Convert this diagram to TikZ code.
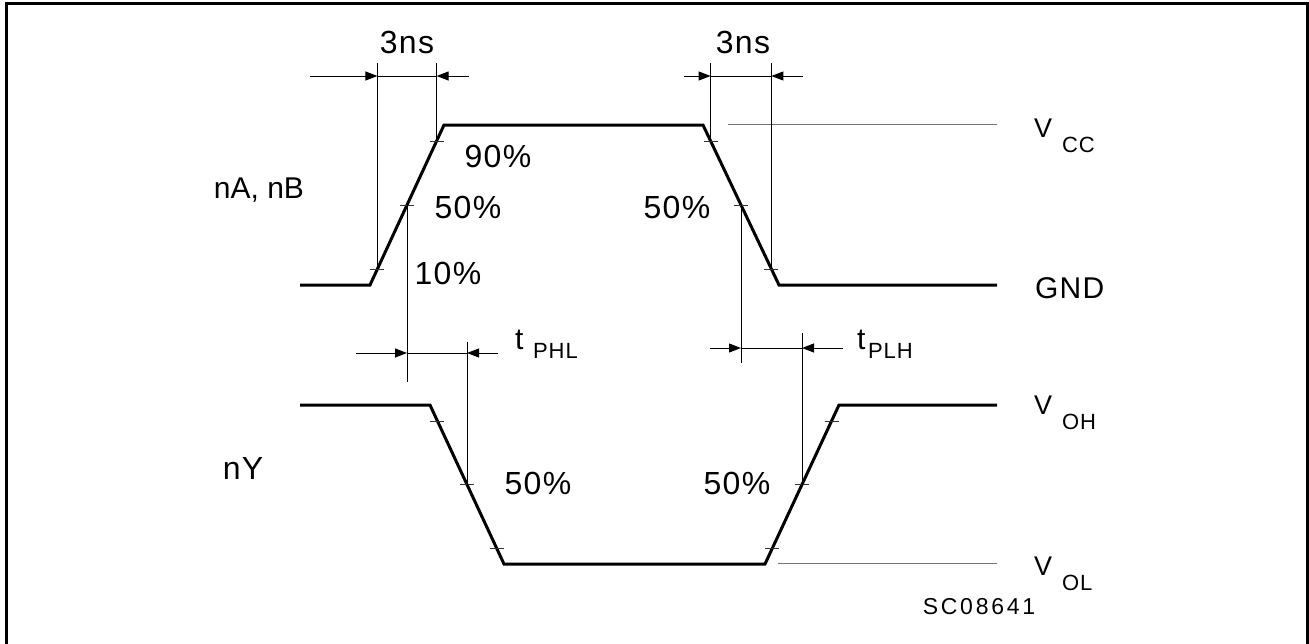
\documentclass[tikz,border=0pt]{standalone}
\usepackage{fontspec}
\setmainfont{Liberation Sans}
\newfontfamily\lblfont[LetterSpace=4]{Liberation Sans}
\newfontfamily\scfont[LetterSpace=12]{Liberation Sans}
\usetikzlibrary{arrows.meta,calc}
\begin{document}
\begin{tikzpicture}[x=1pt,y=-1pt,
  wave/.style={line width=3pt, line join=miter},
  thinline/.style={line width=1pt},
  refline/.style={line width=1pt, draw=black!55},
  dimarrow/.style={line width=1pt, -{Triangle[length=12pt,width=9pt]}},
  lbl/.style={font=\lblfont\fontsize{32}{32}\selectfont, inner sep=0pt},
  vlbl/.style={font=\lblfont\fontsize{27}{27}\selectfont, inner sep=0pt, anchor=base west},
  sub/.style={font=\lblfont\fontsize{22}{22}\selectfont, inner sep=0pt, anchor=base west},
  ticky/.style={line width=0.8pt, draw=black!80}]
\useasboundingbox (0,0) rectangle (1309,643);
% frame
\draw[line width=3pt] (6.5,650) -- (6.5,3.5) -- (1307.5,3.5) -- (1307.5,650);
% input waveform
\coordinate (a0) at (300,285);
\coordinate (a1) at (370,285);
\coordinate (a2) at (444,125);
\coordinate (a3) at (703,125);
\coordinate (a4) at (779,285);
\coordinate (a5) at (997,285);
\draw[wave] (a0) -- (a1) -- (a2) -- (a3) -- (a4) -- (a5);
\coordinate (r10) at ($(a1)!0.1!(a2)$);
\coordinate (r50) at ($(a1)!0.5!(a2)$);
\coordinate (r90) at ($(a1)!0.9!(a2)$);
\coordinate (f90) at ($(a3)!0.1!(a4)$);
\coordinate (f50) at ($(a3)!0.5!(a4)$);
\coordinate (f10) at ($(a3)!0.9!(a4)$);
% output waveform
\coordinate (b0) at (300,405);
\coordinate (b1) at (430,405);
\coordinate (b2) at (504,564);
\coordinate (b3) at (765,564);
\coordinate (b4) at (839,405);
\coordinate (b5) at (997,405);
\draw[wave] (b0) -- (b1) -- (b2) -- (b3) -- (b4) -- (b5);
\coordinate (p90) at ($(b1)!0.1!(b2)$);
\coordinate (p50) at ($(b1)!0.5!(b2)$);
\coordinate (p10) at ($(b1)!0.9!(b2)$);
\coordinate (q10) at ($(b3)!0.1!(b4)$);
\coordinate (q50) at ($(b3)!0.5!(b4)$);
\coordinate (q90) at ($(b3)!0.9!(b4)$);
% ticks
\foreach \c in {r10,r50,r90,f90,f50,f10,p90,p50,p10,q10,q50,q90}
  \draw[ticky] ($(\c)+(-7,0)$) -- ($(\c)+(7,0)$);
% reference lines
\draw[refline] (728,124) -- (997,124);
\draw[refline] (778,563) -- (997,563);
% vertical extension lines
\draw[thinline] (r10 |- 0,63) -- (r10);
\draw[thinline] (r90 |- 0,63) -- (r90);
\draw[thinline] (f90 |- 0,63) -- (f90);
\draw[thinline] (f10 |- 0,63) -- (f10);
\draw[thinline] (r50) -- (r50 |- 0,382);
\draw[thinline] (f50) -- (f50 |- 0,363);
\draw[thinline] (p50 |- 0,342) -- (p50);
\draw[thinline] (q50 |- 0,333) -- (q50);
% dimension 3ns left
\coordinate (d1a) at (r10 |- 0,76);
\coordinate (d1b) at (r90 |- 0,76);
\coordinate (d1l) at (310,76);
\coordinate (d1r) at (469,76);
\draw[dimarrow] (d1l) -- (d1a);
\draw[thinline] (d1a) -- (d1b);
\draw[dimarrow] (d1r) -- (d1b);
% dimension 3ns right
\coordinate (d2a) at (f90 |- 0,76);
\coordinate (d2b) at (f10 |- 0,76);
\coordinate (d2l) at (684,76);
\coordinate (d2r) at (803,76);
\draw[dimarrow] (d2l) -- (d2a);
\draw[thinline] (d2a) -- (d2b);
\draw[dimarrow] (d2r) -- (d2b);
% tPHL
\coordinate (d3a) at (r50 |- 0,353);
\coordinate (d3b) at (p50 |- 0,353);
\coordinate (d3l) at (356,353);
\coordinate (d3r) at (498,353);
\draw[dimarrow] (d3l) -- (d3a);
\draw[thinline] (d3a) -- (d3b);
\draw[dimarrow] (d3r) -- (d3b);
% tPLH
\coordinate (d4a) at (f50 |- 0,348);
\coordinate (d4b) at (q50 |- 0,348);
\coordinate (d4l) at (710,348);
\coordinate (d4r) at (843,348);
\draw[dimarrow] (d4l) -- (d4a);
\draw[thinline] (d4a) -- (d4b);
\draw[dimarrow] (d4r) -- (d4b);
% labels
\node[lbl] (ns1) at (407,42) {3ns};
\node[lbl] (ns2) at (743,42) {3ns};
\node[lbl, font=\fontsize{30}{30}\selectfont] (inl) at (259,190) {nA, nB};
\node[lbl] (outl) at (243,468) {nY};
\node[lbl] (l90) at (498,156) {90\%};
\node[lbl] (l50a) at (468,207) {50\%};
\node[lbl] (l10) at (448,273) {10\%};
\node[lbl] (l50b) at (677,207) {50\%};
\node[lbl] (l50c) at (538,483) {50\%};
\node[lbl] (l50d) at (737,483) {50\%};
\node[lbl, font=\lblfont\fontsize{30}{30}\selectfont, anchor=west] (gnd) at (1035,288) {GND};
% t labels
\node[vlbl, font=\lblfont\fontsize{30}{30}\selectfont] (tphl) at (515,349) {t};
\node[sub] (tphls) at (533,358) {PHL};
\node[vlbl, font=\lblfont\fontsize{30}{30}\selectfont] (tplh) at (857,349) {t};
\node[sub] (tplhs) at (868,358) {PLH};
% voltage labels
\node[vlbl] (vcc) at (1034,137) {V};
\node[sub] (vccs) at (1062,152) {CC};
\node[vlbl] (voh) at (1034,414) {V};
\node[sub] (vohs) at (1062,429) {OH};
\node[vlbl] (vol) at (1034,575) {V};
\node[sub] (vols) at (1062,590) {OL};
\node[inner sep=0pt, font=\scfont\fontsize{23}{23}\selectfont] (sc) at (979,607) {SC08641};
\end{tikzpicture}
\end{document}
